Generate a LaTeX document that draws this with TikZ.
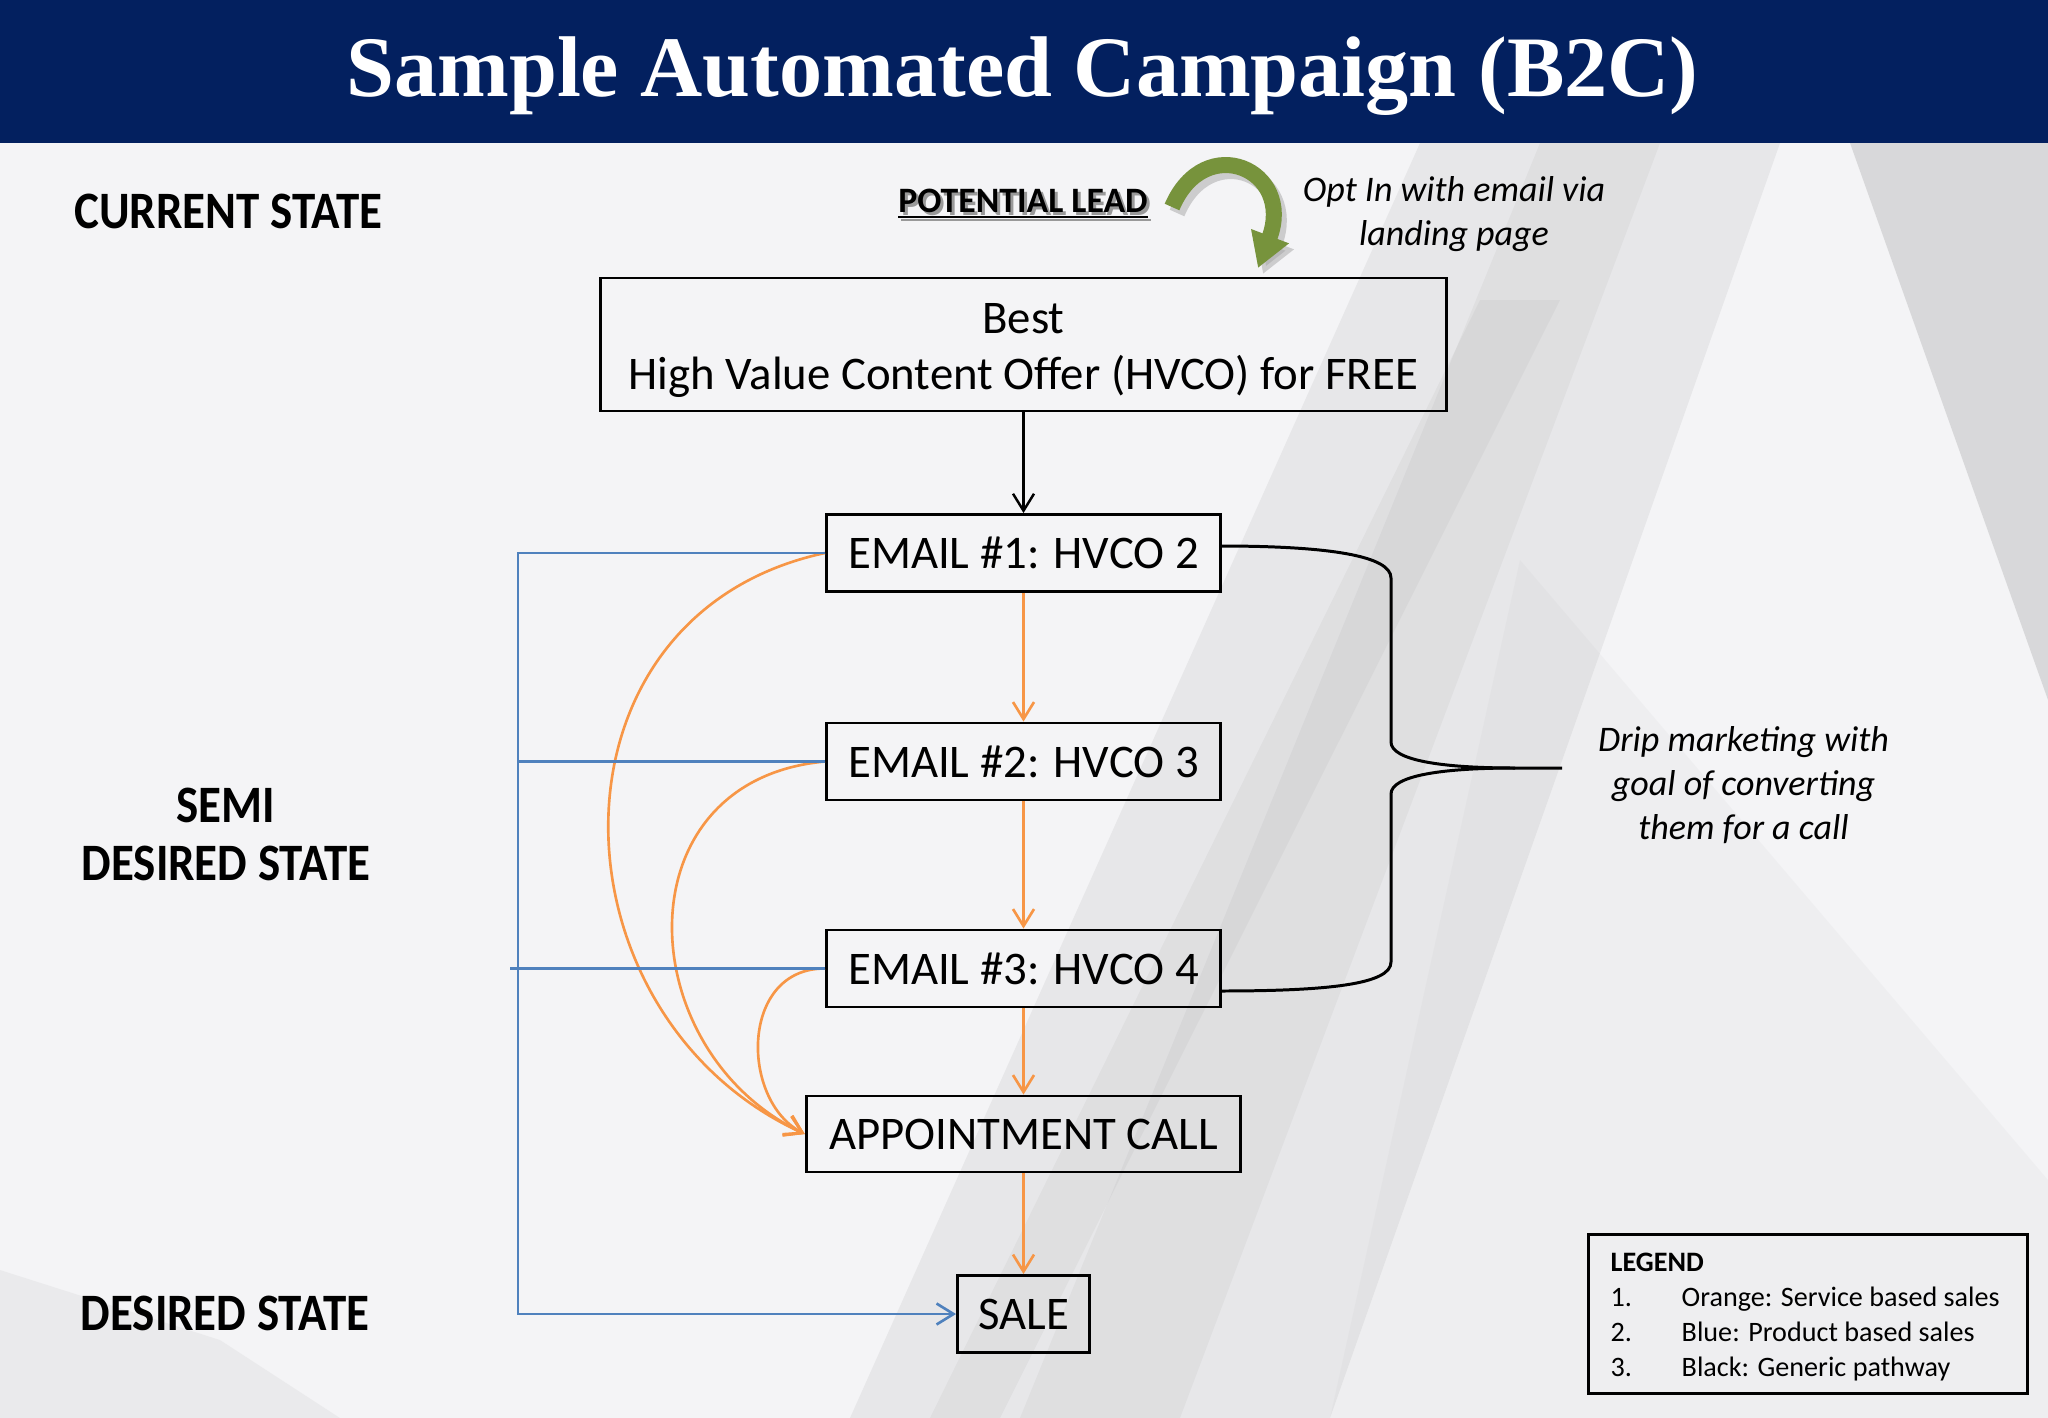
\documentclass[tikz,border=0pt]{standalone}
\usepackage{graphicx}
\usepackage{fontspec}
\setmainfont{Carlito}
\newfontfamily\titlefont{Liberation Serif}
\usetikzlibrary{arrows.meta}
\definecolor{navy}{HTML}{03205F}
\definecolor{bgc}{HTML}{F4F4F6}
\definecolor{orangeC}{HTML}{F79646}
\definecolor{blueC}{HTML}{4F81BD}
\definecolor{greenC}{HTML}{77933C}
\newcommand\tallbox[1]{\scalebox{1}[1.12]{#1}}
\begin{document}
\begin{tikzpicture}[x=0.01cm,y=-0.01cm,
  boxn/.style={draw=black, line width=0.8pt, inner sep=0pt, align=center,
    font=\fontsize{13.3}{16}\selectfont},
  lab/.style={anchor=base, inner sep=0pt, font=\bfseries\fontsize{13.35}{14.58}\selectfont},
  ital/.style={anchor=base, inner sep=0pt, font=\itshape\fontsize{10.24}{12.55}\selectfont},
  tipv/.style={-{Straight Barb[length=0.17cm,width=0.21cm]}},
  blackarr/.style={draw=black, line width=0.7pt, tipv},
  orarr/.style={draw=orangeC, line width=0.75pt, tipv},
  blline/.style={draw=blueC, line width=0.75pt},
  brace/.style={draw=black, line width=0.85pt},
  streak/.style={fill=gray!80, opacity=0.10}]
\useasboundingbox (0,0) rectangle (2048,1418);
% background
\fill[bgc] (0,0) rectangle (2048,1418);
\fill[gray!70, opacity=0.16] (1420,143) -- (1780,143) -- (1330,1418) -- (850,1418) -- cycle;
\fill[streak] (1540,143) -- (1660,143) -- (1180,1418) -- (1020,1418) -- cycle;
\fill[streak] (1480,300) -- (1560,300) -- (1000,1418) -- (930,1418) -- cycle;
\fill[gray!70, opacity=0.35] (1850,143) -- (2048,143) -- (2048,700) -- cycle;
\fill[gray!60, opacity=0.08] (1520,560) -- (2048,1180) -- (2048,1418) -- (1330,1418) -- cycle;
\fill[gray!60, opacity=0.14] (0,1270) -- (220,1340) -- (340,1418) -- (0,1418) -- cycle;
% title bar
\fill[navy] (0,0) rectangle (2048,143);
\node[anchor=base, inner sep=0pt, text=white, font=\titlefont\bfseries\fontsize{24.5}{28}\selectfont] (title) at (1022.5,96.7) {Sample Automated Campaign (B2C)};
% state labels
\node[lab] (cur) at (228.5,228.4) {\tallbox{CURRENT STATE}};
\node[lab] (semi) at (226,822.6) {\tallbox{\begin{tabular}[t]{@{}c@{}}SEMI\\DESIRED STATE\end{tabular}}};
\node[lab] (des) at (225,1330) {\tallbox{DESIRED STATE}};
% potential lead
\node[anchor=base, inner sep=0pt, text=black!40, font=\bfseries\fontsize{10.16}{12}\selectfont] at (1026,215) {\underline{POTENTIAL LEAD}};
\node[anchor=base, inner sep=0pt, font=\bfseries\fontsize{10.16}{12}\selectfont] (pl) at (1023,212) {\underline{POTENTIAL LEAD}};
% green arrow
\coordinate (ga) at (1172,207);
\coordinate (gb) at (1258,268);
\draw[black!35, opacity=0.5, line width=0.16cm, -{Triangle[length=0.34cm,width=0.38cm]}]
  ([shift={(5,6)}]ga) .. controls (1210,136) and (1300,176) .. ([shift={(5,6)}]gb);
\draw[greenC, line width=0.16cm, -{Triangle[length=0.34cm,width=0.38cm]}]
  (ga) .. controls (1205,130) and (1295,170) .. (gb);
\node[ital] (opt) at (1454,201.7) {\begin{tabular}[t]{@{}c@{}}Opt In with email via\\landing page\end{tabular}};
% boxes
\node[boxn, minimum width=8.46cm, minimum height=1.33cm] (best) at (1023.5,344.5) {\raisebox{-0.055cm}[\height][\depth]{\begin{tabular}{@{}c@{}}Best\\High Value Content Offer (HVCO) for FREE\end{tabular}}};
\node[boxn, minimum width=3.94cm, minimum height=0.77cm] (e1) at (1023.5,553) {EMAIL \#1: HVCO 2};
\node[boxn, minimum width=3.94cm, minimum height=0.77cm] (e2) at (1023.5,761.5) {EMAIL \#2: HVCO 3};
\node[boxn, minimum width=3.94cm, minimum height=0.77cm] (e3) at (1023.5,968.5) {EMAIL \#3: HVCO 4};
\node[boxn, minimum width=4.345cm, minimum height=0.76cm] (appt) at (1023.5,1134) {APPOINTMENT CALL};
\node[boxn, minimum width=1.32cm, minimum height=0.77cm] (sale) at (1023.5,1314) {SALE};
% straight arrows
\draw[blackarr] (best) -- (e1);
\draw[orarr] (e1) -- (e2);
\draw[orarr] (e2) -- (e3);
\draw[orarr] (e3) -- (appt);
\draw[orarr] (appt) -- (sale);
% orange curves
\draw[orarr] (e1.west) .. controls (535,615) and (545,1015) .. (appt.west);
\draw[orarr] (e2.west) .. controls (620,780) and (630,1050) .. (appt.west);
\draw[orarr] (e3.west) .. controls (740,968) and (740,1100) .. (appt.west);
% blue lines
\coordinate (bt) at (518,553);
\coordinate (bb) at (518,1314);
\coordinate (b3) at (510,968.5);
\draw[blline, tipv] (e1.west) -- (bt) -- (bb) -- (sale.west);
\draw[blline] (e2.west) -- (e2.west -| bt);
\draw[blline] (e3.west) -- (b3);
% brace
\coordinate (bs) at (1220,546);
\coordinate (be) at (1220,991);
\coordinate (btip) at (1562,768);
\coordinate (bmid) at (1515,768);
\draw[brace] (bs) .. controls (1330,546) and (1391,556) .. (1391,578) -- (1391,742)
  .. controls (1391,760) and (1440,768) .. (bmid) -- (btip);
\draw[brace] (bmid) .. controls (1440,768) and (1391,776) .. (1391,794) -- (1391,962)
  .. controls (1391,984) and (1330,991) .. (be);
\node[ital] (drip) at (1743.5,751.7) {\begin{tabular}[t]{@{}c@{}}Drip marketing with\\goal of converting\\them for a call\end{tabular}};
% legend
\node[draw=black, line width=0.8pt, minimum width=4.38cm, minimum height=1.59cm, inner sep=0pt] (leg) at (1808,1313.8) {};
\node[anchor=base west, inner sep=0pt, font=\fontsize{8}{9.96}\selectfont] (legtxt) at (1610,1271) {\begin{tabular}[t]{@{}l@{}}\textbf{LEGEND}\\
\makebox[0.71cm][l]{1.}Orange: Service based sales\\
\makebox[0.71cm][l]{2.}Blue: Product based sales\\
\makebox[0.71cm][l]{3.}Black: Generic pathway\end{tabular}};
\end{tikzpicture}
\end{document}
